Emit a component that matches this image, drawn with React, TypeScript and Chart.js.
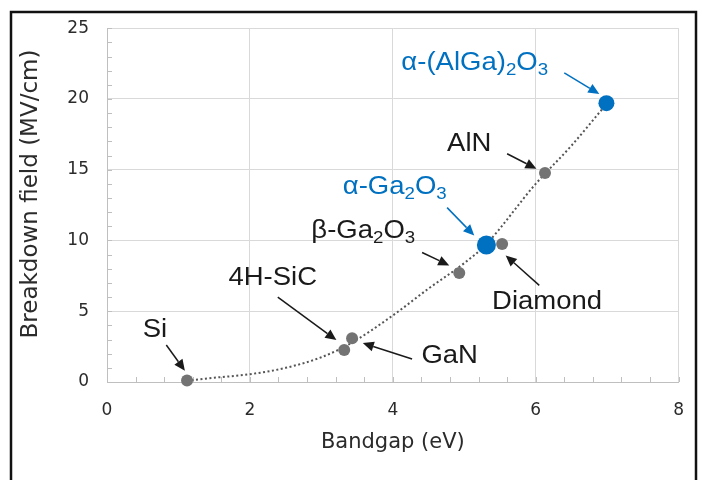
import React, { useEffect, useRef } from 'react';
import { Chart, registerables } from 'chart.js';

Chart.register(...registerables);

// ---- Data ----
const grayNames = ['Si', '4H-SiC', 'GaN', 'β-Ga_2O_3', 'Diamond', 'AlN'];
const grayBandgap = [1.12, 3.43, 3.32, 4.93, 5.53, 6.13];
const grayField = [0.1, 3.09, 2.26, 7.7, 9.75, 14.76];

const blueNames = ['α-Ga_2O_3', 'α-(AlGa)_2O_3'];
const blueBandgap = [5.31, 6.99];
const blueField = [9.68, 19.7];

const trendBandgap = [1.12, 1.5, 2.0, 2.5, 3.0, 3.4, 4.0, 4.5, 5.0, 5.3, 6.0, 6.5, 7.0];
const trendField = [0.1, 0.3, 0.55, 1.0, 1.75, 2.7, 4.7, 6.6, 8.4, 9.7, 14.0, 16.7, 19.7];

const xTitle = 'Bandgap (eV)';
const yTitle = 'Breakdown field (MV/cm)';
const xMin = 0, xMax = 8, xStep = 2, xMinorStep = 0.4;
const yMin = 0, yMax = 25, yStep = 5, yMinorStep = 1;

// ---- Annotation layout (data units) ----
type Note = { name: string; tx: number; ty: number; ax0: number; ay0: number; ax1: number; ay1: number; blue: boolean };
const notes: Note[] = [
  { name: grayNames[0], tx: 0.5, ty: 3.17, ax0: 0.83, ay0: 2.61, ax1: 1.09, ay1: 0.8, blue: false },
  { name: grayNames[1], tx: 1.7, ty: 6.83, ax0: 2.39, ay0: 5.99, ax1: 3.21, ay1: 2.96, blue: false },
  { name: grayNames[2], tx: 4.4, ty: 1.34, ax0: 4.27, ay0: 1.62, ax1: 3.58, ay1: 2.75, blue: false },
  { name: grayNames[3], tx: 2.86, ty: 10.14, ax0: 4.41, ay0: 9.15, ax1: 4.79, ay1: 8.24, blue: false },
  { name: grayNames[4], tx: 5.39, ty: 5.14, ax0: 6.05, ay0: 6.83, ax1: 5.58, ay1: 8.94, blue: false },
  { name: grayNames[5], tx: 4.76, ty: 16.34, ax0: 5.6, ay0: 16.13, ax1: 6.01, ay1: 15.07, blue: false },
  { name: blueNames[0], tx: 3.3, ty: 13.31, ax0: 4.76, ay0: 12.32, ax1: 5.14, ay1: 10.35, blue: true },
  { name: blueNames[1], tx: 4.12, ty: 22.04, ax0: 6.4, ay0: 21.85, ax1: 6.89, ay1: 20.35, blue: true },
];

const BLUE = '#0070C0';
const GRAY = '#737373';
const LABEL_FONT = "'Liberation Sans', Arial, sans-serif";
const AXIS_FONT = "'DejaVu Sans', Verdana, sans-serif";

function parseRich(s: string) {
  const segs: { t: string; sub: boolean }[] = [];
  let buf = '';
  for (let i = 0; i < s.length; i++) {
    if (s[i] === '_' && i + 1 < s.length) {
      if (buf) segs.push({ t: buf, sub: false });
      buf = '';
      segs.push({ t: s[i + 1], sub: true });
      i++;
    } else buf += s[i];
  }
  if (buf) segs.push({ t: buf, sub: false });
  return segs;
}

function drawRich(ctx: CanvasRenderingContext2D, s: string, x: number, y: number, color: string) {
  const size = 25;
  const subSize = 17;
  ctx.save();
  ctx.translate(x, y);
  ctx.scale(1.1, 1);
  ctx.fillStyle = color;
  ctx.textAlign = 'left';
  ctx.textBaseline = 'alphabetic';
  let cx = 0;
  for (const seg of parseRich(s)) {
    ctx.font = `${seg.sub ? subSize : size}px ${LABEL_FONT}`;
    ctx.fillText(seg.t, cx, seg.sub ? 5 : 0);
    cx += ctx.measureText(seg.t).width;
  }
  ctx.restore();
}

function drawArrow(ctx: CanvasRenderingContext2D, x0: number, y0: number, x1: number, y1: number, color: string) {
  const ang = Math.atan2(y1 - y0, x1 - x0);
  const head = 11;
  const hw = 5;
  const bx = x1 - head * Math.cos(ang);
  const by = y1 - head * Math.sin(ang);
  ctx.save();
  ctx.strokeStyle = color;
  ctx.fillStyle = color;
  ctx.lineWidth = 1.5;
  ctx.beginPath();
  ctx.moveTo(x0, y0);
  ctx.lineTo(bx, by);
  ctx.stroke();
  ctx.beginPath();
  ctx.moveTo(x1, y1);
  ctx.lineTo(bx + hw * Math.sin(ang), by - hw * Math.cos(ang));
  ctx.lineTo(bx - hw * Math.sin(ang), by + hw * Math.cos(ang));
  ctx.closePath();
  ctx.fill();
  ctx.restore();
}

const overlayPlugin = {
  id: 'overlay',
  beforeDraw(chart: any) {
    const ctx = chart.ctx as CanvasRenderingContext2D;
    ctx.save();
    ctx.fillStyle = '#ffffff';
    ctx.fillRect(0, 0, chart.width, chart.height);
    ctx.strokeStyle = '#111111';
    ctx.lineWidth = 2.5;
    ctx.strokeRect(11, 12, 685, 480);
    ctx.restore();
  },
  beforeDatasetsDraw(chart: any) {
    const ctx = chart.ctx as CanvasRenderingContext2D;
    const xs = chart.scales.x;
    const ys = chart.scales.y;
    const area = chart.chartArea;
    ctx.save();
    ctx.strokeStyle = '#bfbfbf';
    ctx.lineWidth = 1;
    ctx.beginPath();
    for (let v = yMin; v <= yMax + 1e-9; v += yMinorStep) {
      const py = Math.round(ys.getPixelForValue(v)) + 0.5;
      ctx.moveTo(area.left, py);
      ctx.lineTo(area.left + 5, py);
    }
    for (let i = 0; i * xMinorStep <= xMax + 1e-9; i++) {
      const px = Math.round(xs.getPixelForValue(i * xMinorStep)) + 0.5;
      ctx.moveTo(px, area.bottom);
      ctx.lineTo(px, area.bottom - 5);
    }
    ctx.stroke();
    ctx.restore();
  },
  afterDatasetsDraw(chart: any) {
    const ctx = chart.ctx as CanvasRenderingContext2D;
    const xs = chart.scales.x;
    const ys = chart.scales.y;
    const area = chart.chartArea;
    for (const n of notes) {
      const color = n.blue ? BLUE : '#1a1a1a';
      drawArrow(ctx, xs.getPixelForValue(n.ax0), ys.getPixelForValue(n.ay0), xs.getPixelForValue(n.ax1), ys.getPixelForValue(n.ay1), color);
      drawRich(ctx, n.name, xs.getPixelForValue(n.tx), ys.getPixelForValue(n.ty), color);
    }
    // axis titles
    ctx.save();
    ctx.fillStyle = '#2b2b2b';
    ctx.textAlign = 'center';
    ctx.textBaseline = 'middle';
    ctx.font = `21px ${AXIS_FONT}`;
    ctx.fillText(xTitle, (area.left + area.right) / 2, 443);
    ctx.translate(31, 194);
    ctx.rotate(-Math.PI / 2);
    ctx.font = `23px ${AXIS_FONT}`;
    ctx.fillText(yTitle, 0, 0);
    ctx.restore();
  },
};

export default function App() {
  const ref = useRef<HTMLCanvasElement | null>(null);
  useEffect(() => {
    if (!ref.current) return;
    const chart = new Chart(ref.current, {
      type: 'scatter',
      data: {
        datasets: [
          {
            label: 'Trend',
            type: 'line',
            data: trendBandgap.map((x, i) => ({ x, y: trendField[i] })),
            borderColor: '#555555',
            borderWidth: 2,
            borderDash: [2, 2.5],
            pointRadius: 0,
            fill: false,
            cubicInterpolationMode: 'monotone',
            clip: false,
            order: 3,
          } as any,
          {
            label: 'Materials',
            data: grayBandgap.map((x, i) => ({ x, y: grayField[i] })),
            backgroundColor: GRAY,
            borderColor: GRAY,
            pointRadius: 6,
            borderWidth: 0,
            clip: false,
            order: 2,
          } as any,
          {
            label: 'Corundum',
            data: blueBandgap.map((x, i) => ({ x, y: blueField[i] })),
            backgroundColor: BLUE,
            borderColor: BLUE,
            pointRadius: (c: any) => (c.dataIndex === 0 ? 9.5 : 8),
            borderWidth: 0,
            clip: false,
            order: 1,
          } as any,
        ],
      },
      options: {
        animation: false,
        responsive: false,
        maintainAspectRatio: false,
        events: [],
        layout: { padding: { left: 10, right: 22, top: 28, bottom: 18 } },
        plugins: {
          legend: { display: false },
          tooltip: { enabled: false },
        },
        scales: {
          x: {
            type: 'linear',
            min: xMin,
            max: xMax,
            ticks: { stepSize: xStep, padding: 18, color: '#2b2b2b', font: { family: AXIS_FONT, size: 17 } },
            grid: { color: '#d9d9d9', lineWidth: 1, drawTicks: false },
            border: { display: true, color: '#bfbfbf' },
            afterFit: (s: any) => { s.height = 80; },
          },
          y: {
            type: 'linear',
            min: yMin,
            max: yMax,
            ticks: { stepSize: yStep, padding: 18, color: '#2b2b2b', font: { family: AXIS_FONT, size: 17 } },
            grid: { color: '#d9d9d9', lineWidth: 1, drawTicks: false },
            border: { display: true, color: '#bfbfbf' },
            afterFit: (s: any) => { s.width = 97; },
          },
        },
      },
      plugins: [overlayPlugin],
    });
    return () => chart.destroy();
  }, []);
  return (
    <div style={{ position: 'absolute', left: 0, top: 0, width: 702, height: 480, background: '#fff' }}>
      <canvas ref={ref} width={702} height={480} style={{ display: 'block', width: 702, height: 480 }} />
    </div>
  );
}
